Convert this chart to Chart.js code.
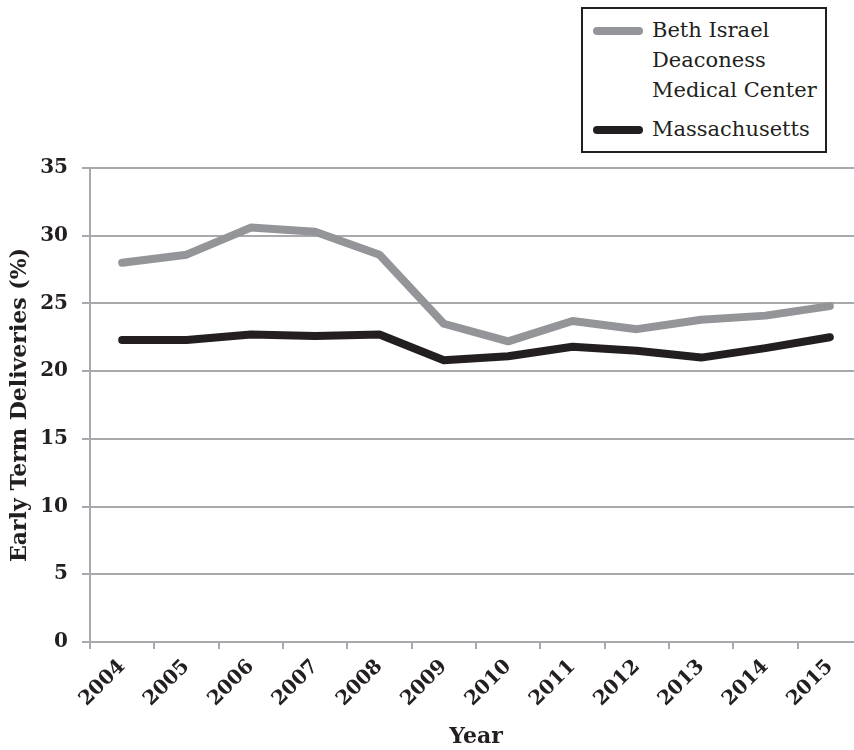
<!DOCTYPE html>
<html>
<head>
<meta charset="utf-8">
<script src="https://cdn.jsdelivr.net/npm/chart.js@4.4.1/dist/chart.umd.min.js"></script>
<style>
  html, body { margin: 0; padding: 0; background: #fff; overflow: hidden; width: 854px; height: 750px; }
  #wrap { position: absolute; left: 0; top: 0; width: 870px; height: 750px; }
  #legend {
    position: absolute; left: 581px; top: 7px; width: 246px; height: 146px;
    border: 2px solid #231f20; box-sizing: border-box; background: #fff;
    font-family: "DejaVu Serif", serif; font-size: 21px; color: #231f20;
    padding: 6px 0 0 10px;
  }
  .item { display: flex; align-items: flex-start; margin-bottom: 9px; }
  .swatch { width: 50px; height: 8px; border-radius: 4px; margin-top: 12px; margin-right: 9px; flex: none; }
  .lbl { width: 178px; line-height: 30px; }
</style>
</head>
<body>
<div id="wrap"><canvas id="c" width="870" height="750"></canvas></div>
<div id="legend"></div>
<script>
const years = ["2004","2005","2006","2007","2008","2009","2010","2011","2012","2013","2014","2015"];
const bethIsrael = [28.0, 28.6, 30.6, 30.3, 28.6, 23.5, 22.2, 23.7, 23.1, 23.8, 24.1, 24.8];
const massachusetts = [22.3, 22.3, 22.7, 22.6, 22.7, 20.8, 21.1, 21.8, 21.5, 21.0, 21.7, 22.5];
const seriesNames = ["Beth Israel Deaconess Medical Center", "Massachusetts"];
const seriesColors = ["#939598", "#231f20"];
const yTicks = [0, 5, 10, 15, 20, 25, 30, 35];

const gridColor = "#a7a9ac";
const textColor = "#231f20";

const chart = new Chart(document.getElementById("c"), {
  type: "line",
  data: {
    labels: years,
    datasets: [
      { label: seriesNames[0], data: bethIsrael, borderColor: seriesColors[0], backgroundColor: seriesColors[0],
        borderWidth: 8, pointRadius: 0, tension: 0, borderCapStyle: "round", borderJoinStyle: "round" },
      { label: seriesNames[1], data: massachusetts, borderColor: seriesColors[1], backgroundColor: seriesColors[1],
        borderWidth: 8, pointRadius: 0, tension: 0, borderCapStyle: "round", borderJoinStyle: "round" }
    ]
  },
  options: {
    responsive: false,
    animation: false,
    layout: { padding: { top: 168, right: 8, bottom: 0, left: 0 } },
    plugins: { legend: { display: false }, tooltip: { enabled: false } },
    scales: {
      x: {
        type: "category",
        offset: true,
        grid: { display: true, offset: true, drawOnChartArea: false, drawTicks: true, tickLength: 7, color: gridColor, lineWidth: 2 },
        border: { display: true, color: gridColor, width: 2 },
        ticks: { color: textColor, font: { family: "DejaVu Serif", weight: "bold", size: 20 }, maxRotation: 45, minRotation: 45, padding: 6, autoSkip: false },
        title: { display: true, text: "Year", color: textColor, font: { family: "DejaVu Serif", weight: "bold", size: 22 }, padding: { top: 0, bottom: 0 } },
        afterFit: (s) => { s.height = 108; }
      },
      y: {
        min: 0, max: 35,
        afterBuildTicks: (s) => { s.ticks = yTicks.map(v => ({ value: v })); },
        grid: { color: gridColor, lineWidth: 2, tickLength: 8 },
        border: { display: true, color: gridColor, width: 2 },
        ticks: { color: textColor, font: { family: "DejaVu Serif", weight: "bold", size: 20 }, padding: 14 },
        title: { display: true, text: "Early Term Deliveries (%)", color: textColor, font: { family: "DejaVu Serif", weight: "bold", size: 22 }, padding: { top: 7, bottom: 0 } },
        afterFit: (s) => { s.width = 90; }
      }
    }
  }
});

const legend = document.getElementById("legend");
chart.data.datasets.forEach((ds) => {
  const item = document.createElement("div");
  item.className = "item";
  const sw = document.createElement("div");
  sw.className = "swatch";
  sw.style.background = ds.borderColor;
  const lb = document.createElement("div");
  lb.className = "lbl";
  lb.textContent = ds.label;
  item.appendChild(sw); item.appendChild(lb);
  legend.appendChild(item);
});
</script>
</body>
</html>
